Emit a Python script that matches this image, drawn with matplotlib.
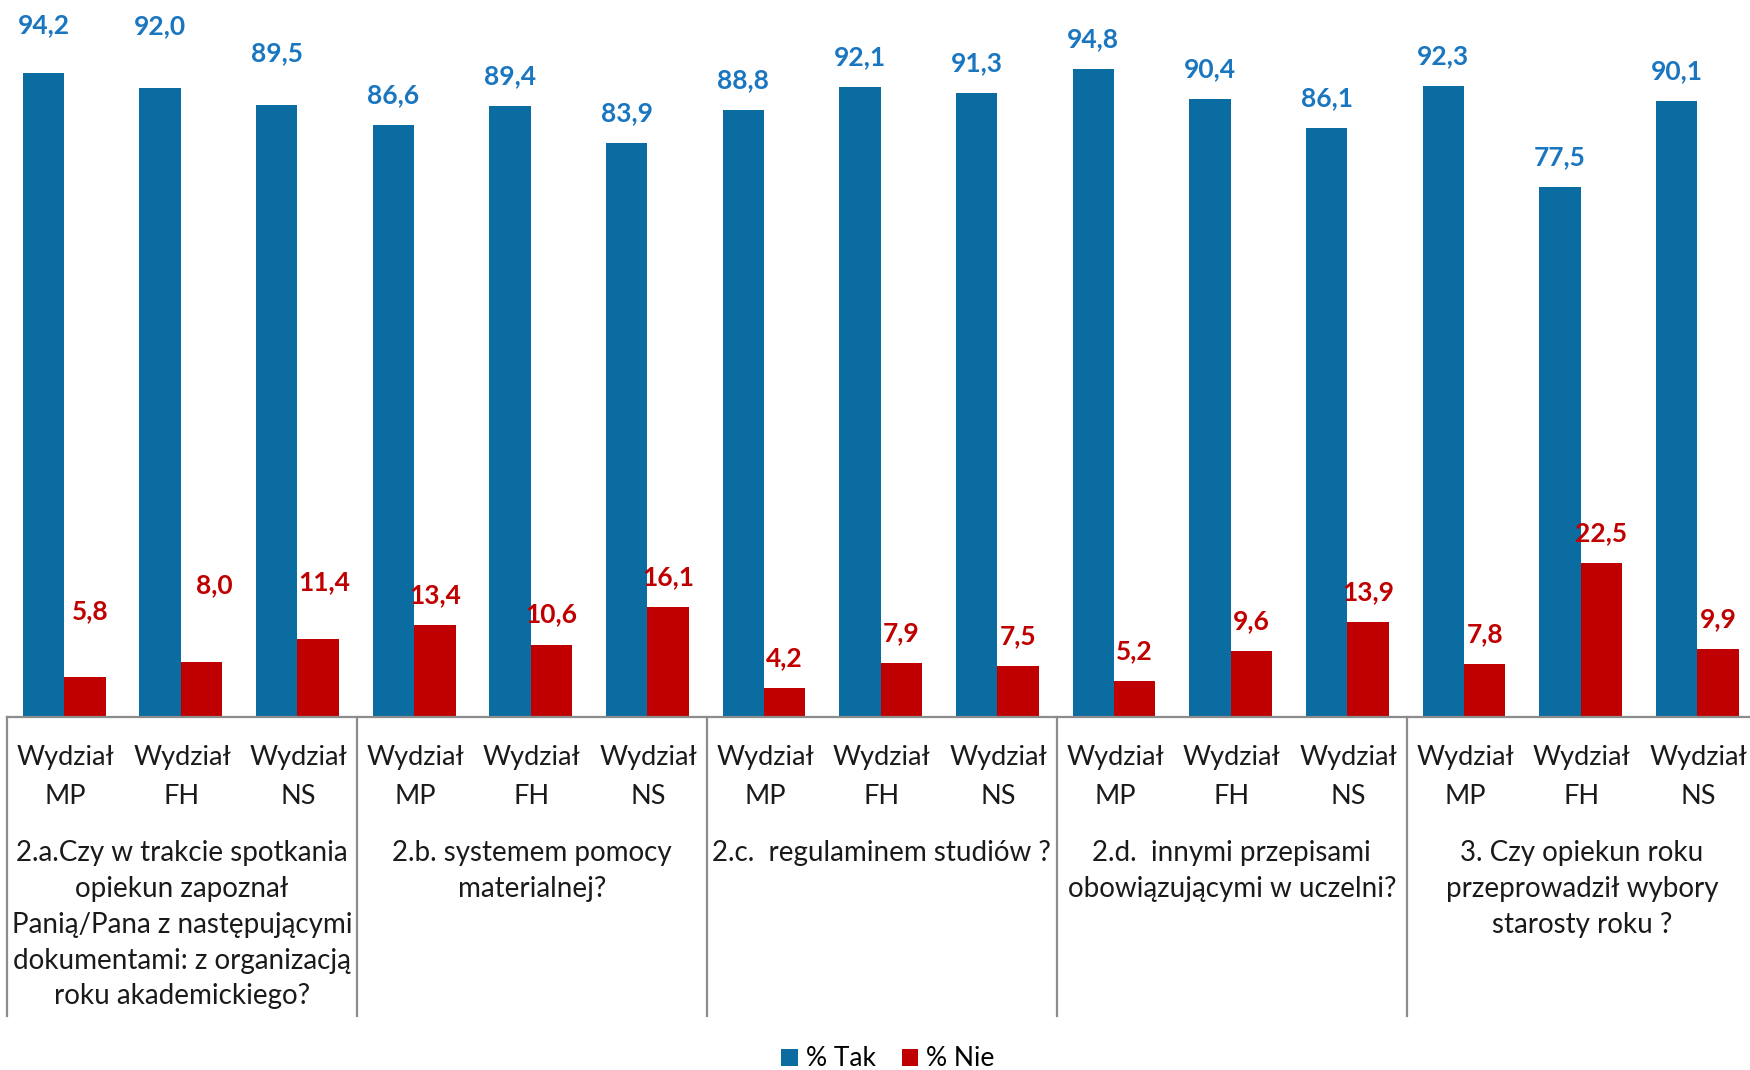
import numpy as np
import matplotlib
matplotlib.use("Agg")
import matplotlib.pyplot as plt
from matplotlib.transforms import blended_transform_factory

plt.rcParams['font.family'] = ['Lato', 'DejaVu Sans']

faculties = ["MP", "FH", "NS"] * 5
tak = [94.2, 92.0, 89.5, 86.6, 89.4, 83.9, 88.8, 92.1, 91.3, 94.8, 90.4, 86.1, 92.3, 77.5, 90.1]
nie = [5.8, 8.0, 11.4, 13.4, 10.6, 16.1, 4.2, 7.9, 7.5, 5.2, 9.6, 13.9, 7.8, 22.5, 9.9]
questions = [
    "2.a.Czy w trakcie spotkania\nopiekun zapoznał\nPanią/Pana z następującymi\ndokumentami: z organizacją\nroku akademickiego?",
    "2.b. systemem pomocy\nmaterialnej?",
    "2.c.  regulaminem studiów ?",
    "2.d.  innymi przepisami\nobowiązującymi w uczelni?",
    "3. Czy opiekun roku\nprzeprowadził wybory\nstarosty roku ?",
]
series_names = ["% Tak", "% Nie"]

# label nudges (pixels) for hand-placed labels in the reference
tak_label_dy = [48, 62, 52] + [30] * 12
nie_label_dy = [66, 77, 57] + [30] * 12
nie_label_dx = [5, 13, 6] + [0] * 12

W, H = 1750, 1070
fig = plt.figure(figsize=(W / 100, H / 100), dpi=100)
cat_w = 116.65
left_px = 7
base_px = 717
n = len(tak)
ax = fig.add_axes([left_px / W, 1 - base_px / H, n * cat_w / W, base_px / H])

blue_bar = "#0a6ca1"
red_bar = "#c00000"
blue_txt = "#1b76c0"
red_txt = "#c00000"
gray = "#8c8c8c"

x = np.arange(n)
bw = 0.355
b1 = ax.bar(x - bw / 2 - 0.01, tak, bw, color=blue_bar, label=series_names[0])
b2 = ax.bar(x + bw / 2 - 0.01, nie, bw, color=red_bar, label=series_names[1])
ax.set_xlim(-0.5, n - 0.5)
ax.set_ylim(0, base_px / 6.836)

for sp in ["top", "right", "left"]:
    ax.spines[sp].set_visible(False)
ax.spines["bottom"].set_color(gray)
ax.spines["bottom"].set_linewidth(1.6)
ax.set_yticks([])
ax.set_xticks([])

for i, r in enumerate(b1):
    ax.annotate(f"{tak[i]:.1f}".replace(".", ","), (r.get_x() + r.get_width() / 2, tak[i]),
                xytext=(0, tak_label_dy[i]), textcoords="offset pixels",
                ha="center", va="center", color=blue_txt, fontsize=19, fontweight="bold")
for i, r in enumerate(b2):
    ax.annotate(f"{nie[i]:.1f}".replace(".", ","), (r.get_x() + r.get_width() / 2, nie[i]),
                xytext=(nie_label_dx[i], nie_label_dy[i]), textcoords="offset pixels",
                ha="center", va="center", color=red_txt, fontsize=19, fontweight="bold")

tr = blended_transform_factory(ax.transData, fig.transFigure)
for i, f in enumerate(faculties):
    ax.text(i, 1 - 758 / H, "Wydział", transform=tr, ha="center", va="center", fontsize=19.5, color="#1a1a1a")
    ax.text(i, 1 - 796 / H, f, transform=tr, ha="center", va="center", fontsize=19.5, color="#1a1a1a")

for g, q in enumerate(questions):
    ax.text(3 * g + 1, 1 - 840 / H, q, transform=tr, ha="center", va="top", fontsize=20,
            color="#1a1a1a", linespacing=1.47)

for g in range(6):
    xd = 3 * g - 0.5
    ax.plot([xd, xd], [1 - base_px / H, 1 - 1016 / H], transform=tr, color=gray, lw=1.6, clip_on=False)

fig.legend(handles=[b1, b2], labels=series_names, loc="center", bbox_to_anchor=(888 / W, 1 - 1059 / H),
           ncol=2, frameon=False, fontsize=19, handlelength=0.62, handleheight=0.62,
           handletextpad=0.3, columnspacing=1.0)

fig.savefig("out.png", dpi=100)
